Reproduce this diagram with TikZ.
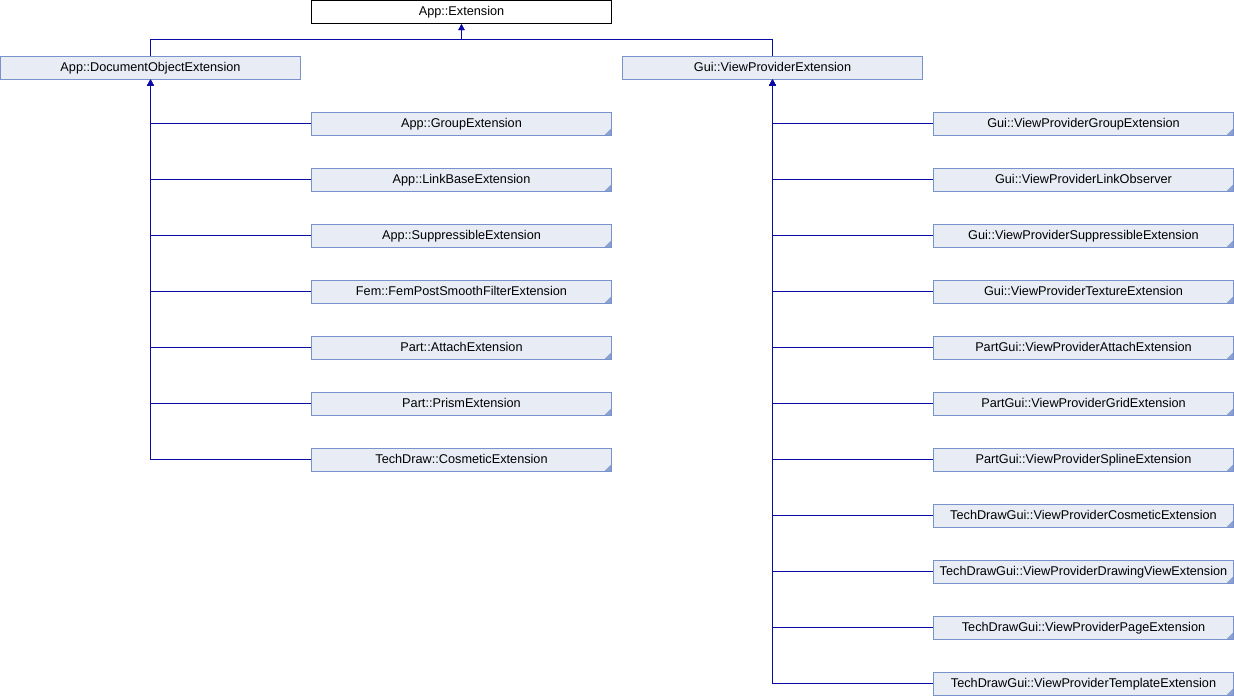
\documentclass[tikz,border=0pt]{standalone}
\usepackage{fontspec}
\setmainfont{Liberation Sans}
\usetikzlibrary{arrows.meta}
\definecolor{boxfill}{HTML}{E8ECF5}
\definecolor{boxline}{HTML}{7A92CB}
\definecolor{edgeblue}{HTML}{0A0AA6}
\definecolor{cornerfill}{HTML}{8AA0D2}
\tikzset{
  cls/.style={draw=boxline, fill=boxfill, line width=1pt,
    minimum width=300pt, minimum height=23pt, inner sep=0pt,
    text height=10.2pt, text depth=2.6pt,
    font=\fontsize{12.7}{14}\selectfont},
  more/.style={cls,
    path picture={\fill[cornerfill]
      ([xshift=-7pt]path picture bounding box.south east) --
      (path picture bounding box.south east) --
      ([yshift=7pt]path picture bounding box.south east) -- cycle;}},
  root/.style={cls, draw=black, fill=white},
  edge/.style={draw=edgeblue, line width=1.4pt},
  inh/.style={edge, -{Triangle[length=6pt,width=6pt]}}
}
\begin{document}
\begin{tikzpicture}[x=1pt,y=-1pt]
\useasboundingbox (0,0) rectangle (1234,696);

% base and the two direct descendants
\node[root] (ext) at (461.5,12) {App::Extension};
\node[cls]  (doe) at (150.5,67.5) {App::DocumentObjectExtension};
\node[cls]  (vpe) at (772.5,67.5) {Gui::ViewProviderExtension};

% document object extensions
\foreach \n/\t [count=\i from 0] in {
  a1/App::GroupExtension,
  a2/App::LinkBaseExtension,
  a3/App::SuppressibleExtension,
  a4/Fem::FemPostSmoothFilterExtension,
  a5/Part::AttachExtension,
  a6/Part::PrismExtension,
  a7/TechDraw::CosmeticExtension}{
  \node[more] (\n) at (461.5,123.7+56*\i) {\t};
  \draw[inh] (\n.west) -| (doe.south);
}

% view provider extensions
\foreach \n/\t [count=\i from 0] in {
  g1/Gui::ViewProviderGroupExtension,
  g2/Gui::ViewProviderLinkObserver,
  g3/Gui::ViewProviderSuppressibleExtension,
  g4/Gui::ViewProviderTextureExtension,
  g5/PartGui::ViewProviderAttachExtension,
  g6/PartGui::ViewProviderGridExtension,
  g7/PartGui::ViewProviderSplineExtension,
  g8/TechDrawGui::ViewProviderCosmeticExtension,
  g9/TechDrawGui::ViewProviderDrawingViewExtension,
  g10/TechDrawGui::ViewProviderPageExtension,
  g11/TechDrawGui::ViewProviderTemplateExtension}{
  \node[more] (\n) at (1083.5,123.7+56*\i) {\t};
  \draw[inh] (\n.west) -| (vpe.south);
}

% both branches up to the base class
\draw[inh] (doe.north) -- ++(0,-16) -| (ext.south);
\draw[inh] (vpe.north) -- ++(0,-16) -| (ext.south);
\end{tikzpicture}
\end{document}
